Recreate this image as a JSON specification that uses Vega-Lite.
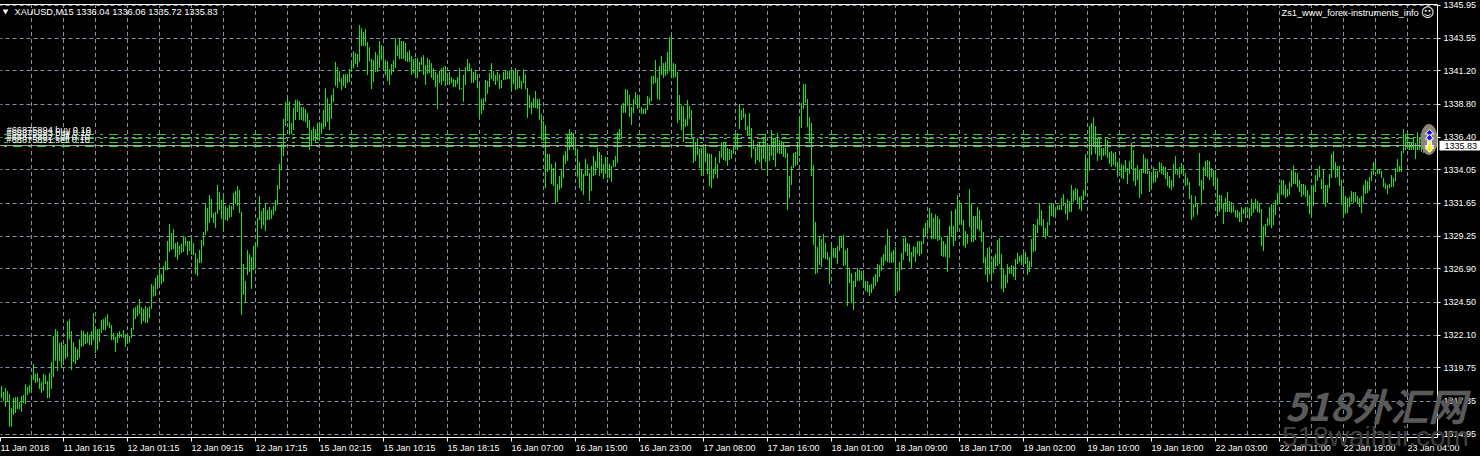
{"$schema":"https://vega.github.io/schema/vega-lite/v6.json","width":1437,"height":433,"autosize":{"type":"none"},"padding":{"left":0,"top":4,"right":43,"bottom":19},"background":"#000000","config":{"view":{"stroke":null},"font":"Liberation Sans"},
"datasets":{
"grid":[{"n":15},{"n":31},{"n":47},{"n":63},{"n":79},{"n":95},{"n":111},{"n":127},{"n":143},{"n":159},{"n":175},{"n":191},{"n":207},{"n":223},{"n":239},{"n":255},{"n":271},{"n":287},{"n":303},{"n":319},{"n":335},{"n":351},{"n":367},{"n":383},{"n":399},{"n":415},{"n":431},{"n":447},{"n":463},{"n":479},{"n":495},{"n":511},{"n":527},{"n":543},{"n":559},{"n":575},{"n":591},{"n":607},{"n":623},{"n":639},{"n":655},{"n":671},{"n":687},{"n":703}],
"orders":[{"price":1336.576},{"price":1336.287},{"price":1335.998},{"price":1335.709}],
"bars":[
{"n":0,"hi":1318.41,"lo":1317.54},{"n":1,"hi":1317.98,"lo":1317.33},{"n":2,"hi":1318.27,"lo":1316.92},{"n":3,"hi":1318.05,"lo":1317.28},{"n":4,"hi":1317.83,"lo":1315.47},{"n":5,"hi":1316.82,"lo":1315.47},{"n":6,"hi":1317.54,"lo":1316.32},{"n":7,"hi":1317.62,"lo":1316.46},{"n":8,"hi":1317.62,"lo":1316.75},{"n":9,"hi":1317.25,"lo":1316.75},
{"n":10,"hi":1317.69,"lo":1316.56},{"n":11,"hi":1317.76,"lo":1317.18},{"n":12,"hi":1318.55,"lo":1317.11},{"n":13,"hi":1318.34,"lo":1317.76},{"n":14,"hi":1318.48,"lo":1317.9},{"n":15,"hi":1319.2,"lo":1317.98},{"n":16,"hi":1320,"lo":1318.84},{"n":17,"hi":1319.28,"lo":1318.63},{"n":18,"hi":1319.35,"lo":1318.7},{"n":19,"hi":1318.99,"lo":1318.2},
{"n":20,"hi":1318.7,"lo":1317.9},{"n":21,"hi":1319.28,"lo":1318.05},{"n":22,"hi":1319.2,"lo":1318.55},{"n":23,"hi":1318.77,"lo":1317.54},{"n":24,"hi":1319.35,"lo":1317.54},{"n":25,"hi":1320.14,"lo":1318.2},{"n":26,"hi":1322.02,"lo":1319.06},{"n":27,"hi":1322.53,"lo":1320.22},{"n":28,"hi":1322.38,"lo":1319.49},{"n":29,"hi":1321.52,"lo":1320.22},
{"n":30,"hi":1321.59,"lo":1319.71},{"n":31,"hi":1321.37,"lo":1320},{"n":32,"hi":1321.44,"lo":1320.36},{"n":33,"hi":1323.1,"lo":1320.5},{"n":34,"hi":1323.25,"lo":1321.8},{"n":35,"hi":1322.38,"lo":1319.57},{"n":36,"hi":1321.59,"lo":1320.14},{"n":37,"hi":1321.23,"lo":1320},{"n":38,"hi":1321.08,"lo":1320.29},{"n":39,"hi":1321.8,"lo":1320.43},
{"n":40,"hi":1322.45,"lo":1321.23},{"n":41,"hi":1322.38,"lo":1321.3},{"n":42,"hi":1322.16,"lo":1321.44},{"n":43,"hi":1322.31,"lo":1321.52},{"n":44,"hi":1322.09,"lo":1321.37},{"n":45,"hi":1322.38,"lo":1321.37},{"n":46,"hi":1323.68,"lo":1321.73},{"n":47,"hi":1322.67,"lo":1320.79},{"n":48,"hi":1322.53,"lo":1321.01},{"n":49,"hi":1322.53,"lo":1321.59},
{"n":50,"hi":1323.18,"lo":1322.24},{"n":51,"hi":1323.25,"lo":1322.45},{"n":52,"hi":1323.39,"lo":1322.45},{"n":53,"hi":1323.61,"lo":1322.74},{"n":54,"hi":1323.03,"lo":1322.6},{"n":55,"hi":1322.81,"lo":1321.73},{"n":56,"hi":1322.24,"lo":1321.73},{"n":57,"hi":1321.95,"lo":1320.87},{"n":58,"hi":1322.24,"lo":1321.52},{"n":59,"hi":1322.38,"lo":1321.88},
{"n":60,"hi":1322.16,"lo":1321.95},{"n":61,"hi":1322.45,"lo":1321.88},{"n":62,"hi":1322.16,"lo":1321.23},{"n":63,"hi":1322.09,"lo":1321.44},{"n":64,"hi":1322.02,"lo":1321.52},{"n":65,"hi":1322.6,"lo":1321.88},{"n":66,"hi":1324.04,"lo":1322.45},{"n":67,"hi":1324.11,"lo":1323.25},{"n":68,"hi":1324.26,"lo":1323.46},{"n":69,"hi":1324.7,"lo":1323.61},
{"n":70,"hi":1324.12,"lo":1322.89},{"n":71,"hi":1323.98,"lo":1323.1},{"n":72,"hi":1324.19,"lo":1322.96},{"n":73,"hi":1324.05,"lo":1322.96},{"n":74,"hi":1324.15,"lo":1323.32},{"n":75,"hi":1325.78,"lo":1323.97},{"n":76,"hi":1325.64,"lo":1324.87},{"n":77,"hi":1326.22,"lo":1324.92},{"n":78,"hi":1326.43,"lo":1325.42},{"n":79,"hi":1326.94,"lo":1325.78},
{"n":80,"hi":1326.5,"lo":1325.78},{"n":81,"hi":1327.08,"lo":1325.93},{"n":82,"hi":1327.44,"lo":1326.79},{"n":83,"hi":1328.89,"lo":1326.79},{"n":84,"hi":1330.11,"lo":1328.09},{"n":85,"hi":1329.46,"lo":1328.24},{"n":86,"hi":1329.75,"lo":1328.31},{"n":87,"hi":1328.74,"lo":1327.73},{"n":88,"hi":1328.81,"lo":1327.52},{"n":89,"hi":1328.53,"lo":1327.88},
{"n":90,"hi":1328.67,"lo":1328.02},{"n":91,"hi":1329.18,"lo":1328.09},{"n":92,"hi":1329.18,"lo":1328.53},{"n":93,"hi":1328.89,"lo":1327.88},{"n":94,"hi":1328.89,"lo":1328.17},{"n":95,"hi":1329.25,"lo":1327.88},{"n":96,"hi":1328.74,"lo":1327.88},{"n":97,"hi":1328.02,"lo":1326.5},{"n":98,"hi":1327.59,"lo":1326.36},{"n":99,"hi":1328.24,"lo":1327.3},
{"n":100,"hi":1328.96,"lo":1327.3},{"n":101,"hi":1329.54,"lo":1328.53},{"n":102,"hi":1331.63,"lo":1329.32},{"n":103,"hi":1331.27,"lo":1329.61},{"n":104,"hi":1332.21,"lo":1330.19},{"n":105,"hi":1331.92,"lo":1330.55},{"n":106,"hi":1330.91,"lo":1330.19},{"n":107,"hi":1330.98,"lo":1329.83},{"n":108,"hi":1332.93,"lo":1330.84},{"n":109,"hi":1332.43,"lo":1331.13},
{"n":110,"hi":1331.85,"lo":1330.48},{"n":111,"hi":1332.14,"lo":1329.61},{"n":112,"hi":1331.42,"lo":1330.4},{"n":113,"hi":1331.27,"lo":1330.33},{"n":114,"hi":1331.49,"lo":1330.55},{"n":115,"hi":1331.42,"lo":1330.62},{"n":116,"hi":1332.35,"lo":1331.13},{"n":117,"hi":1332.5,"lo":1331.56},{"n":118,"hi":1332.86,"lo":1331.42},{"n":119,"hi":1332.57,"lo":1330.91},
{"n":120,"hi":1330.98,"lo":1323.54},{"n":121,"hi":1327.23,"lo":1324.99},{"n":122,"hi":1326,"lo":1324.46},{"n":123,"hi":1328.24,"lo":1326.43},{"n":124,"hi":1327.95,"lo":1326.65},{"n":125,"hi":1327.73,"lo":1325.42},{"n":126,"hi":1328.53,"lo":1326.79},{"n":127,"hi":1328.81,"lo":1326.87},{"n":128,"hi":1330.55,"lo":1328.45},{"n":129,"hi":1332.14,"lo":1330.4},
{"n":130,"hi":1331.05,"lo":1329.75},{"n":131,"hi":1331.27,"lo":1330.04},{"n":132,"hi":1331.63,"lo":1329.61},{"n":133,"hi":1331.13,"lo":1330.4},{"n":134,"hi":1331.34,"lo":1330.4},{"n":135,"hi":1331.13,"lo":1330.48},{"n":136,"hi":1331.42,"lo":1330.76},{"n":137,"hi":1331.85,"lo":1331.05},{"n":138,"hi":1332.93,"lo":1331.49},{"n":139,"hi":1334.45,"lo":1332.64},
{"n":140,"hi":1335.89,"lo":1334.01},{"n":141,"hi":1337.7,"lo":1335.02},{"n":142,"hi":1338.92,"lo":1337.19},{"n":143,"hi":1339.14,"lo":1337.55},{"n":144,"hi":1338.98,"lo":1336.54},{"n":145,"hi":1337.41,"lo":1336.61},{"n":146,"hi":1338.49,"lo":1336.9},{"n":147,"hi":1339.07,"lo":1337.62},{"n":148,"hi":1339.07,"lo":1338.2},{"n":149,"hi":1338.98,"lo":1337.62},
{"n":150,"hi":1338.56,"lo":1337.62},{"n":151,"hi":1338.56,"lo":1337.55},{"n":152,"hi":1338.42,"lo":1337.48},{"n":153,"hi":1338.13,"lo":1337.05},{"n":154,"hi":1337.62,"lo":1335.46},{"n":155,"hi":1336.9,"lo":1335.82},{"n":156,"hi":1337.12,"lo":1336.11},{"n":157,"hi":1336.97,"lo":1335.96},{"n":158,"hi":1337.41,"lo":1336.18},{"n":159,"hi":1337.48,"lo":1336.18},
{"n":160,"hi":1337.41,"lo":1336.61},{"n":161,"hi":1338.35,"lo":1336.97},{"n":162,"hi":1339.9,"lo":1337.12},{"n":163,"hi":1339.21,"lo":1337.48},{"n":164,"hi":1338.71,"lo":1336.9},{"n":165,"hi":1339.43,"lo":1337.7},{"n":166,"hi":1339.9,"lo":1338.92},{"n":167,"hi":1341.81,"lo":1340.07},{"n":168,"hi":1341.45,"lo":1339.93},{"n":169,"hi":1341.16,"lo":1340.36},
{"n":170,"hi":1340.65,"lo":1339.79},{"n":171,"hi":1340.94,"lo":1340.07},{"n":172,"hi":1340.94,"lo":1339.93},{"n":173,"hi":1340.94,"lo":1340.29},{"n":174,"hi":1341.3,"lo":1340.36},{"n":175,"hi":1341.73,"lo":1341.09},{"n":176,"hi":1342.6,"lo":1341.37},{"n":177,"hi":1342.46,"lo":1341.66},{"n":178,"hi":1342.39,"lo":1341.45},{"n":179,"hi":1344.48,"lo":1341.81},
{"n":180,"hi":1344.26,"lo":1342.96},{"n":181,"hi":1343.97,"lo":1342.96},{"n":182,"hi":1344.19,"lo":1342.96},{"n":183,"hi":1343.25,"lo":1340.87},{"n":184,"hi":1342.89,"lo":1341.88},{"n":185,"hi":1342.02,"lo":1339.86},{"n":186,"hi":1341.95,"lo":1340.36},{"n":187,"hi":1342.53,"lo":1341.09},{"n":188,"hi":1342.31,"lo":1341.09},{"n":189,"hi":1343.32,"lo":1341.37},
{"n":190,"hi":1343.03,"lo":1341.95},{"n":191,"hi":1342.67,"lo":1341.23},{"n":192,"hi":1341.95,"lo":1340.87},{"n":193,"hi":1341.88,"lo":1340.44},{"n":194,"hi":1341.3,"lo":1340.15},{"n":195,"hi":1341.66,"lo":1340.87},{"n":196,"hi":1341.95,"lo":1341.09},{"n":197,"hi":1343.54,"lo":1341.37},{"n":198,"hi":1343.03,"lo":1342.24},{"n":199,"hi":1343.47,"lo":1342.02},
{"n":200,"hi":1343.32,"lo":1342.02},{"n":201,"hi":1343.32,"lo":1342.02},{"n":202,"hi":1343.18,"lo":1341.88},{"n":203,"hi":1342.53,"lo":1341.81},{"n":204,"hi":1342.67,"lo":1341.81},{"n":205,"hi":1342.24,"lo":1340.87},{"n":206,"hi":1342.02,"lo":1341.01},{"n":207,"hi":1342.1,"lo":1340.87},{"n":208,"hi":1342.1,"lo":1340.65},{"n":209,"hi":1341.81,"lo":1341.09},
{"n":210,"hi":1342.17,"lo":1341.59},{"n":211,"hi":1342.31,"lo":1340.87},{"n":212,"hi":1341.59,"lo":1340.15},{"n":213,"hi":1342.1,"lo":1340.94},{"n":214,"hi":1341.95,"lo":1341.01},{"n":215,"hi":1341.73,"lo":1340.65},{"n":216,"hi":1341.37,"lo":1340.51},{"n":217,"hi":1341.09,"lo":1340},{"n":218,"hi":1340.94,"lo":1338.41},{"n":219,"hi":1341.16,"lo":1340.29},
{"n":220,"hi":1341.37,"lo":1340.15},{"n":221,"hi":1341.45,"lo":1340.44},{"n":222,"hi":1341.52,"lo":1340.07},{"n":223,"hi":1341.01,"lo":1340.36},{"n":224,"hi":1341.09,"lo":1340.15},{"n":225,"hi":1340.72,"lo":1340.29},{"n":226,"hi":1340.58,"lo":1340},{"n":227,"hi":1340.51,"lo":1340},{"n":228,"hi":1340.72,"lo":1340.22},{"n":229,"hi":1341.37,"lo":1339.79},
{"n":230,"hi":1339.93,"lo":1339.86},{"n":231,"hi":1340.87,"lo":1338.92},{"n":232,"hi":1341.45,"lo":1340.15},{"n":233,"hi":1342.02,"lo":1341.16},{"n":234,"hi":1341.73,"lo":1341.16},{"n":235,"hi":1341.37,"lo":1340.29},{"n":236,"hi":1341.09,"lo":1340.29},{"n":237,"hi":1341.23,"lo":1340.51},{"n":238,"hi":1340.94,"lo":1339.93},{"n":239,"hi":1340.15,"lo":1337.76},
{"n":240,"hi":1339.14,"lo":1338.05},{"n":241,"hi":1339.21,"lo":1338.34},{"n":242,"hi":1340.51,"lo":1338.92},{"n":243,"hi":1340.44,"lo":1339.5},{"n":244,"hi":1341.01,"lo":1340},{"n":245,"hi":1341.73,"lo":1340.58},{"n":246,"hi":1341.16,"lo":1340.44},{"n":247,"hi":1340.87,"lo":1340.15},{"n":248,"hi":1341.09,"lo":1340.44},{"n":249,"hi":1340.94,"lo":1339.86},
{"n":250,"hi":1340.51,"lo":1339.93},{"n":251,"hi":1341.09,"lo":1340.51},{"n":252,"hi":1341.16,"lo":1340.51},{"n":253,"hi":1341.16,"lo":1340.58},{"n":254,"hi":1341.16,"lo":1340.58},{"n":255,"hi":1341.16,"lo":1339.79},{"n":256,"hi":1341.16,"lo":1340.22},{"n":257,"hi":1341.37,"lo":1339.79},{"n":258,"hi":1341.16,"lo":1339.86},{"n":259,"hi":1340.8,"lo":1339.93},
{"n":260,"hi":1340.44,"lo":1339.86},{"n":261,"hi":1341.3,"lo":1340.29},{"n":262,"hi":1340.94,"lo":1339.86},{"n":263,"hi":1339.93,"lo":1337.76},{"n":264,"hi":1339.42,"lo":1338.49},{"n":265,"hi":1338.92,"lo":1338.05},{"n":266,"hi":1339.21,"lo":1338.49},{"n":267,"hi":1339.71,"lo":1338.49},{"n":268,"hi":1339.14,"lo":1338.41},{"n":269,"hi":1339.14,"lo":1337.62},
{"n":270,"hi":1338.05,"lo":1336.18},{"n":271,"hi":1337.55,"lo":1336.11},{"n":272,"hi":1337.26,"lo":1332.71},{"n":273,"hi":1335.17,"lo":1333.87},{"n":274,"hi":1335.17,"lo":1334.01},{"n":275,"hi":1334.45,"lo":1333},{"n":276,"hi":1334.16,"lo":1332.86},{"n":277,"hi":1334.59,"lo":1331.56},{"n":278,"hi":1333,"lo":1331.7},{"n":279,"hi":1333.58,"lo":1332.57},
{"n":280,"hi":1334.08,"lo":1332.71},{"n":281,"hi":1335.09,"lo":1333.43},{"n":282,"hi":1335.38,"lo":1334.45},{"n":283,"hi":1336.61,"lo":1334.66},{"n":284,"hi":1336.97,"lo":1335.46},{"n":285,"hi":1336.76,"lo":1335.74},{"n":286,"hi":1336.68,"lo":1335.46},{"n":287,"hi":1336.11,"lo":1335.02},{"n":288,"hi":1335.53,"lo":1333.51},{"n":289,"hi":1334.59,"lo":1332.71},
{"n":290,"hi":1334.01,"lo":1332.5},{"n":291,"hi":1333.72,"lo":1332.21},{"n":292,"hi":1334.81,"lo":1333.58},{"n":293,"hi":1334.45,"lo":1333.58},{"n":294,"hi":1333.79,"lo":1331.77},{"n":295,"hi":1334.3,"lo":1332.5},{"n":296,"hi":1335.02,"lo":1333.58},{"n":297,"hi":1334.66,"lo":1333.65},{"n":298,"hi":1335.6,"lo":1334.16},{"n":299,"hi":1335.31,"lo":1333.58},
{"n":300,"hi":1335.09,"lo":1333.79},{"n":301,"hi":1334.45,"lo":1333.36},{"n":302,"hi":1334.95,"lo":1333.72},{"n":303,"hi":1334.95,"lo":1333.43},{"n":304,"hi":1334.45,"lo":1333.43},{"n":305,"hi":1334.3,"lo":1333.14},{"n":306,"hi":1334.73,"lo":1334.23},{"n":307,"hi":1335.02,"lo":1334.23},{"n":308,"hi":1336.76,"lo":1334.52},{"n":309,"hi":1336.97,"lo":1336.18},
{"n":310,"hi":1338.7,"lo":1336.25},{"n":311,"hi":1338.85,"lo":1338.13},{"n":312,"hi":1339.86,"lo":1338.13},{"n":313,"hi":1339.79,"lo":1338.63},{"n":314,"hi":1339.43,"lo":1337.84},{"n":315,"hi":1338.56,"lo":1337.26},{"n":316,"hi":1339.14,"lo":1338.13},{"n":317,"hi":1339.64,"lo":1338.78},{"n":318,"hi":1339.43,"lo":1338.42},{"n":319,"hi":1339.35,"lo":1338.49},
{"n":320,"hi":1338.56,"lo":1338.05},{"n":321,"hi":1338.42,"lo":1338.05},{"n":322,"hi":1338.49,"lo":1338.05},{"n":323,"hi":1339.35,"lo":1338.34},{"n":324,"hi":1339.21,"lo":1338.7},{"n":325,"hi":1340.8,"lo":1339},{"n":326,"hi":1340.8,"lo":1340.22},{"n":327,"hi":1341.95,"lo":1340.29},{"n":328,"hi":1340.65,"lo":1339.14},{"n":329,"hi":1341.52,"lo":1339.07},
{"n":330,"hi":1342.24,"lo":1340.87},{"n":331,"hi":1341.74,"lo":1340.65},{"n":332,"hi":1341.81,"lo":1340.8},{"n":333,"hi":1342.53,"lo":1340.94},{"n":334,"hi":1343.61,"lo":1341.16},{"n":335,"hi":1343.69,"lo":1340.65},{"n":336,"hi":1341.74,"lo":1340.65},{"n":337,"hi":1341.66,"lo":1340.73},{"n":338,"hi":1341.09,"lo":1337.4},{"n":339,"hi":1339.43,"lo":1337.62},
{"n":340,"hi":1338.7,"lo":1336.9},{"n":341,"hi":1338.63,"lo":1336.03},{"n":342,"hi":1337.69,"lo":1337.12},{"n":343,"hi":1339.07,"lo":1337.19},{"n":344,"hi":1338.63,"lo":1337.69},{"n":345,"hi":1338.34,"lo":1336.37},{"n":346,"hi":1336.32,"lo":1334.52},{"n":347,"hi":1336.03,"lo":1334.66},{"n":348,"hi":1336.32,"lo":1335.09},{"n":349,"hi":1335.53,"lo":1334.16},
{"n":350,"hi":1335.6,"lo":1333.58},{"n":351,"hi":1335.82,"lo":1333.65},{"n":352,"hi":1335.89,"lo":1334.59},{"n":353,"hi":1335.24,"lo":1333.72},{"n":354,"hi":1335.17,"lo":1332.86},{"n":355,"hi":1335.17,"lo":1332.71},{"n":356,"hi":1334.08,"lo":1333.36},{"n":357,"hi":1334.95,"lo":1333.72},{"n":358,"hi":1334.45,"lo":1333.43},{"n":359,"hi":1335.38,"lo":1334.52},
{"n":360,"hi":1336.03,"lo":1334.88},{"n":361,"hi":1336.03,"lo":1334.73},{"n":362,"hi":1335.96,"lo":1334.66},{"n":363,"hi":1335.6,"lo":1334.3},{"n":364,"hi":1335.53,"lo":1334.73},{"n":365,"hi":1335.46,"lo":1334.81},{"n":366,"hi":1335.74,"lo":1335.17},{"n":367,"hi":1336.61,"lo":1335.46},{"n":368,"hi":1336.68,"lo":1335.46},{"n":369,"hi":1338.78,"lo":1336.97},
{"n":370,"hi":1338.34,"lo":1337.62},{"n":371,"hi":1338.49,"lo":1337.77},{"n":372,"hi":1338.06,"lo":1336.9},{"n":373,"hi":1337.19,"lo":1336.47},{"n":374,"hi":1338.13,"lo":1336.47},{"n":375,"hi":1337.04,"lo":1334.88},{"n":376,"hi":1336.18,"lo":1335.53},{"n":377,"hi":1335.67,"lo":1334.44},{"n":378,"hi":1335.89,"lo":1334.73},{"n":379,"hi":1335.96,"lo":1334.59},
{"n":380,"hi":1335.82,"lo":1334.08},{"n":381,"hi":1336.25,"lo":1334.81},{"n":382,"hi":1336.54,"lo":1334.59},{"n":383,"hi":1335.96,"lo":1333.65},{"n":384,"hi":1335.82,"lo":1334.66},{"n":385,"hi":1336.9,"lo":1335.02},{"n":386,"hi":1336.25,"lo":1334.73},{"n":387,"hi":1336.32,"lo":1334.23},{"n":388,"hi":1336.68,"lo":1335.24},{"n":389,"hi":1336.18,"lo":1335.17},
{"n":390,"hi":1336.11,"lo":1335.17},{"n":391,"hi":1335.96,"lo":1334.95},{"n":392,"hi":1335.6,"lo":1334.88},{"n":393,"hi":1335.24,"lo":1331.12},{"n":394,"hi":1333.58,"lo":1331.99},{"n":395,"hi":1334.3,"lo":1332.93},{"n":396,"hi":1335.24,"lo":1334.16},{"n":397,"hi":1335.31,"lo":1334.3},{"n":398,"hi":1335.96,"lo":1334.37},{"n":399,"hi":1337.84,"lo":1335.02},
{"n":400,"hi":1338.85,"lo":1337.04},{"n":401,"hi":1340.22,"lo":1338.42},{"n":402,"hi":1340.22,"lo":1338.85},{"n":403,"hi":1339.14,"lo":1337.12},{"n":404,"hi":1337.84,"lo":1335.96},{"n":405,"hi":1337.41,"lo":1333.58},{"n":406,"hi":1334.37,"lo":1328.6},{"n":407,"hi":1330.26,"lo":1326.5},{"n":408,"hi":1328.45,"lo":1326.57},{"n":409,"hi":1329.25,"lo":1327.15},
{"n":410,"hi":1329.03,"lo":1327.01},{"n":411,"hi":1329.39,"lo":1327.66},{"n":412,"hi":1328.74,"lo":1327.59},{"n":413,"hi":1328.09,"lo":1327.51},{"n":414,"hi":1327.73,"lo":1325.78},{"n":415,"hi":1328.74,"lo":1326.86},{"n":416,"hi":1328.38,"lo":1327.66},{"n":417,"hi":1328.38,"lo":1327.66},{"n":418,"hi":1328.52,"lo":1327.22},{"n":419,"hi":1329.25,"lo":1328.16},
{"n":420,"hi":1329.25,"lo":1328.38},{"n":421,"hi":1329.32,"lo":1327.08},{"n":422,"hi":1328.23,"lo":1327.15},{"n":423,"hi":1328.38,"lo":1324.19},{"n":424,"hi":1326.94,"lo":1325.85},{"n":425,"hi":1326.57,"lo":1324.41},{"n":426,"hi":1326,"lo":1323.9},{"n":427,"hi":1326.65,"lo":1325.56},{"n":428,"hi":1326.94,"lo":1326},{"n":429,"hi":1326.79,"lo":1326},
{"n":430,"hi":1326.72,"lo":1326.07},{"n":431,"hi":1326.57,"lo":1325.49},{"n":432,"hi":1326,"lo":1325.28},{"n":433,"hi":1326,"lo":1325.2},{"n":434,"hi":1325.71,"lo":1324.91},{"n":435,"hi":1325.78,"lo":1325.13},{"n":436,"hi":1326.29,"lo":1325.42},{"n":437,"hi":1326.5,"lo":1325.64},{"n":438,"hi":1327.22,"lo":1325.93},{"n":439,"hi":1327.15,"lo":1326.29},
{"n":440,"hi":1327.73,"lo":1326.72},{"n":441,"hi":1327.95,"lo":1327.08},{"n":442,"hi":1328.6,"lo":1327.44},{"n":443,"hi":1329.75,"lo":1327.37},{"n":444,"hi":1329.17,"lo":1327.3},{"n":445,"hi":1328.09,"lo":1327.3},{"n":446,"hi":1328.23,"lo":1327.37},{"n":447,"hi":1328.45,"lo":1324.91},{"n":448,"hi":1326.72,"lo":1325.2},{"n":449,"hi":1327.37,"lo":1325.28},
{"n":450,"hi":1328.02,"lo":1326.79},{"n":451,"hi":1329.1,"lo":1327.51},{"n":452,"hi":1329.17,"lo":1328.09},{"n":453,"hi":1328.74,"lo":1327.8},{"n":454,"hi":1328.67,"lo":1327.37},{"n":455,"hi":1328.09,"lo":1326.94},{"n":456,"hi":1328.52,"lo":1327.73},{"n":457,"hi":1328.45,"lo":1327.37},{"n":458,"hi":1328.88,"lo":1327.95},{"n":459,"hi":1328.88,"lo":1327.8},
{"n":460,"hi":1328.88,"lo":1327.95},{"n":461,"hi":1329.82,"lo":1328.67},{"n":462,"hi":1330.18,"lo":1329.25},{"n":463,"hi":1330.4,"lo":1329.39},{"n":464,"hi":1331.27,"lo":1329.82},{"n":465,"hi":1330.91,"lo":1329.03},{"n":466,"hi":1330.55,"lo":1329.03},{"n":467,"hi":1330.83,"lo":1329.03},{"n":468,"hi":1330.69,"lo":1328.88},{"n":469,"hi":1330.47,"lo":1328.96},
{"n":470,"hi":1329.17,"lo":1327.8},{"n":471,"hi":1328.88,"lo":1327.73},{"n":472,"hi":1328.67,"lo":1327.73},{"n":473,"hi":1329.25,"lo":1326.65},{"n":474,"hi":1329.97,"lo":1327.66},{"n":475,"hi":1331.05,"lo":1329.17},{"n":476,"hi":1329.97,"lo":1328.52},{"n":477,"hi":1331.2,"lo":1328.88},{"n":478,"hi":1332.21,"lo":1329.54},{"n":479,"hi":1331.63,"lo":1330.04},
{"n":480,"hi":1331.63,"lo":1330.04},{"n":481,"hi":1330.4,"lo":1328.52},{"n":482,"hi":1329.61,"lo":1328.38},{"n":483,"hi":1329.39,"lo":1328.67},{"n":484,"hi":1332.64,"lo":1329.9},{"n":485,"hi":1331.63,"lo":1328.81},{"n":486,"hi":1330.69,"lo":1328.81},{"n":487,"hi":1330.69,"lo":1328.95},{"n":488,"hi":1331.34,"lo":1329.75},{"n":489,"hi":1331.12,"lo":1329.6},
{"n":490,"hi":1330.4,"lo":1328.81},{"n":491,"hi":1329.53,"lo":1327.29},{"n":492,"hi":1327.73,"lo":1326.43},{"n":493,"hi":1328.38,"lo":1325.92},{"n":494,"hi":1328.45,"lo":1326.5},{"n":495,"hi":1327.44,"lo":1326.07},{"n":496,"hi":1327.73,"lo":1326.57},{"n":497,"hi":1327.94,"lo":1327},{"n":498,"hi":1328.95,"lo":1327.08},{"n":499,"hi":1329.1,"lo":1327.22},
{"n":500,"hi":1327.94,"lo":1325.42},{"n":501,"hi":1326.86,"lo":1325.2},{"n":502,"hi":1326.43,"lo":1325.49},{"n":503,"hi":1327.22,"lo":1325.85},{"n":504,"hi":1327,"lo":1326.5},{"n":505,"hi":1327.15,"lo":1326.5},{"n":506,"hi":1327.08,"lo":1326.28},{"n":507,"hi":1327.58,"lo":1326.07},{"n":508,"hi":1328.02,"lo":1327.22},{"n":509,"hi":1327.8,"lo":1327.37},
{"n":510,"hi":1327.87,"lo":1327.15},{"n":511,"hi":1328.02,"lo":1327.22},{"n":512,"hi":1328.09,"lo":1327.22},{"n":513,"hi":1327.73,"lo":1326.43},{"n":514,"hi":1327.44,"lo":1326.64},{"n":515,"hi":1329.03,"lo":1327},{"n":516,"hi":1330.11,"lo":1328.09},{"n":517,"hi":1330.04,"lo":1328.16},{"n":518,"hi":1330.47,"lo":1329.46},{"n":519,"hi":1331.62,"lo":1330.04},
{"n":520,"hi":1331.12,"lo":1329.96},{"n":521,"hi":1330.47,"lo":1329.24},{"n":522,"hi":1329.82,"lo":1329.03},{"n":523,"hi":1330.25,"lo":1329.24},{"n":524,"hi":1331.48,"lo":1330.04},{"n":525,"hi":1331.62,"lo":1330.69},{"n":526,"hi":1331.62,"lo":1330.61},{"n":527,"hi":1331.34,"lo":1330.69},{"n":528,"hi":1331.48,"lo":1331.12},{"n":529,"hi":1331.48,"lo":1331.12},
{"n":530,"hi":1331.99,"lo":1331.12},{"n":531,"hi":1332.27,"lo":1331.41},{"n":532,"hi":1331.55,"lo":1330.83},{"n":533,"hi":1331.91,"lo":1330.4},{"n":534,"hi":1331.77,"lo":1330.97},{"n":535,"hi":1332.92,"lo":1330.97},{"n":536,"hi":1332.56,"lo":1331.7},{"n":537,"hi":1332.71,"lo":1331.84},{"n":538,"hi":1332.64,"lo":1331.62},{"n":539,"hi":1332.06,"lo":1331.19},
{"n":540,"hi":1332.13,"lo":1331.05},{"n":541,"hi":1332.56,"lo":1331.84},{"n":542,"hi":1335.16,"lo":1332.13},{"n":543,"hi":1334.8,"lo":1333.31},{"n":544,"hi":1337.18,"lo":1333.94},{"n":545,"hi":1337.4,"lo":1335.09},{"n":546,"hi":1337.83,"lo":1335.81},{"n":547,"hi":1337.18,"lo":1335.16},{"n":548,"hi":1336.32,"lo":1334.66},{"n":549,"hi":1336.39,"lo":1335.02},
{"n":550,"hi":1335.6,"lo":1334.73},{"n":551,"hi":1335.6,"lo":1335.02},{"n":552,"hi":1336.32,"lo":1335.09},{"n":553,"hi":1336.17,"lo":1334.87},{"n":554,"hi":1335.31,"lo":1334.44},{"n":555,"hi":1335.38,"lo":1334.22},{"n":556,"hi":1335.24,"lo":1334.37},{"n":557,"hi":1335.31,"lo":1334.22},{"n":558,"hi":1334.59,"lo":1333.5},{"n":559,"hi":1334.8,"lo":1333.94},
{"n":560,"hi":1334.44,"lo":1333.43},{"n":561,"hi":1334.37,"lo":1333.36},{"n":562,"hi":1334.73,"lo":1333.86},{"n":563,"hi":1334.15,"lo":1333},{"n":564,"hi":1334.66,"lo":1333.72},{"n":565,"hi":1335.96,"lo":1334.08},{"n":566,"hi":1335.45,"lo":1333.21},{"n":567,"hi":1334.15,"lo":1332.85},{"n":568,"hi":1334.37,"lo":1333.29},{"n":569,"hi":1334.01,"lo":1331.99},
{"n":570,"hi":1334.01,"lo":1332.27},{"n":571,"hi":1335.16,"lo":1333.79},{"n":572,"hi":1334.87,"lo":1333.72},{"n":573,"hi":1334.8,"lo":1333.72},{"n":574,"hi":1333.94,"lo":1332.42},{"n":575,"hi":1333.57,"lo":1332.85},{"n":576,"hi":1334.22,"lo":1333.07},{"n":577,"hi":1333.94,"lo":1333.14},{"n":578,"hi":1333.94,"lo":1333.43},{"n":579,"hi":1334.59,"lo":1333.86},
{"n":580,"hi":1334.51,"lo":1333.72},{"n":581,"hi":1334.3,"lo":1333.65},{"n":582,"hi":1334.22,"lo":1333.36},{"n":583,"hi":1333.86,"lo":1332.85},{"n":584,"hi":1333.57,"lo":1332.71},{"n":585,"hi":1333.29,"lo":1332.56},{"n":586,"hi":1334.44,"lo":1332.78},{"n":587,"hi":1335.02,"lo":1333.72},{"n":588,"hi":1334.08,"lo":1333.65},{"n":589,"hi":1334.22,"lo":1333.43},
{"n":590,"hi":1334.51,"lo":1333.72},{"n":591,"hi":1334.37,"lo":1333.65},{"n":592,"hi":1333.79,"lo":1332.85},{"n":593,"hi":1333.43,"lo":1332.92},{"n":594,"hi":1333.14,"lo":1331.91},{"n":595,"hi":1332.2,"lo":1330.4},{"n":596,"hi":1331.55,"lo":1330.61},{"n":597,"hi":1332.13,"lo":1331.34},{"n":598,"hi":1331.62,"lo":1330.76},{"n":599,"hi":1335.24,"lo":1332.85},
{"n":600,"hi":1333.29,"lo":1331.48},{"n":601,"hi":1334.22,"lo":1332.56},{"n":602,"hi":1334.66,"lo":1333.58},{"n":603,"hi":1334.73,"lo":1333.5},{"n":604,"hi":1334.66,"lo":1333.29},{"n":605,"hi":1334.15,"lo":1333.5},{"n":606,"hi":1334.01,"lo":1332.85},{"n":607,"hi":1334.01,"lo":1332.78},{"n":608,"hi":1333.43,"lo":1330.69},{"n":609,"hi":1332.2,"lo":1330.98},
{"n":610,"hi":1332.2,"lo":1331.19},{"n":611,"hi":1331.63,"lo":1330.11},{"n":612,"hi":1331.99,"lo":1330.98},{"n":613,"hi":1332.42,"lo":1330.98},{"n":614,"hi":1331.77,"lo":1330.98},{"n":615,"hi":1331.7,"lo":1330.9},{"n":616,"hi":1331.48,"lo":1330.98},{"n":617,"hi":1331.12,"lo":1330.62},{"n":618,"hi":1331.12,"lo":1330.54},{"n":619,"hi":1330.98,"lo":1330.26},
{"n":620,"hi":1331.34,"lo":1330.26},{"n":621,"hi":1331.19,"lo":1330.83},{"n":622,"hi":1331.34,"lo":1330.54},{"n":623,"hi":1331.34,"lo":1330.9},{"n":624,"hi":1331.27,"lo":1330.47},{"n":625,"hi":1331.92,"lo":1330.69},{"n":626,"hi":1331.63,"lo":1330.9},{"n":627,"hi":1331.92,"lo":1331.19},{"n":628,"hi":1331.77,"lo":1330.98},{"n":629,"hi":1331.63,"lo":1330.9},
{"n":630,"hi":1331.19,"lo":1328.52},{"n":631,"hi":1329.97,"lo":1328.16},{"n":632,"hi":1330.11,"lo":1329.24},{"n":633,"hi":1330.54,"lo":1329.97},{"n":634,"hi":1331.34,"lo":1330.04},{"n":635,"hi":1331.55,"lo":1329.82},{"n":636,"hi":1331.48,"lo":1330.04},{"n":637,"hi":1331.84,"lo":1330.76},{"n":638,"hi":1332.35,"lo":1331.48},{"n":639,"hi":1332.93,"lo":1331.55},
{"n":640,"hi":1333.29,"lo":1332.2},{"n":641,"hi":1333.29,"lo":1332.2},{"n":642,"hi":1332.93,"lo":1331.99},{"n":643,"hi":1332.64,"lo":1332.06},{"n":644,"hi":1333.14,"lo":1332.2},{"n":645,"hi":1334.01,"lo":1332.78},{"n":646,"hi":1334.37,"lo":1333},{"n":647,"hi":1333.87,"lo":1333},{"n":648,"hi":1333.79,"lo":1332.78},{"n":649,"hi":1333.29,"lo":1332.42},
{"n":650,"hi":1333,"lo":1332.06},{"n":651,"hi":1333,"lo":1332.2},{"n":652,"hi":1332.93,"lo":1332.06},{"n":653,"hi":1332.57,"lo":1331.41},{"n":654,"hi":1332.2,"lo":1330.83},{"n":655,"hi":1332.93,"lo":1330.54},{"n":656,"hi":1332.93,"lo":1331.41},{"n":657,"hi":1333.65,"lo":1332.42},{"n":658,"hi":1334.08,"lo":1333.22},{"n":659,"hi":1334.3,"lo":1333.5},
{"n":660,"hi":1333.36,"lo":1332.64},{"n":661,"hi":1334.01,"lo":1331.63},{"n":662,"hi":1332.93,"lo":1331.34},{"n":663,"hi":1332.93,"lo":1331.63},{"n":664,"hi":1333.72,"lo":1332.71},{"n":665,"hi":1335.17,"lo":1333.43},{"n":666,"hi":1335.38,"lo":1334.01},{"n":667,"hi":1334.59,"lo":1333.43},{"n":668,"hi":1334.3,"lo":1333.5},{"n":669,"hi":1334.3,"lo":1332.85},
{"n":670,"hi":1333.29,"lo":1331.48},{"n":671,"hi":1332.64,"lo":1330.54},{"n":672,"hi":1332.13,"lo":1330.83},{"n":673,"hi":1331.99,"lo":1330.9},{"n":674,"hi":1332.06,"lo":1331.34},{"n":675,"hi":1332.49,"lo":1331.7},{"n":676,"hi":1332.42,"lo":1331.63},{"n":677,"hi":1332.42,"lo":1331.7},{"n":678,"hi":1332.13,"lo":1331.63},{"n":679,"hi":1331.99,"lo":1331.34},
{"n":680,"hi":1332.13,"lo":1330.9},{"n":681,"hi":1332.93,"lo":1331.63},{"n":682,"hi":1333.29,"lo":1332.28},{"n":683,"hi":1333.22,"lo":1332.35},{"n":684,"hi":1333.5,"lo":1332.49},{"n":685,"hi":1333.94,"lo":1333.22},{"n":686,"hi":1334.59,"lo":1333.65},{"n":687,"hi":1334.59,"lo":1334.01},{"n":688,"hi":1334.08,"lo":1333.72},{"n":689,"hi":1334.01,"lo":1333.72},
{"n":690,"hi":1333.94,"lo":1333.43},{"n":691,"hi":1333.43,"lo":1332.78},{"n":692,"hi":1333.07,"lo":1332.64},{"n":693,"hi":1332.93,"lo":1332.28},{"n":694,"hi":1333,"lo":1332.71},{"n":695,"hi":1333.65,"lo":1332.78},{"n":696,"hi":1333.43,"lo":1332.78},{"n":697,"hi":1334.15,"lo":1333.22},{"n":698,"hi":1334.8,"lo":1333.87},{"n":699,"hi":1334.3,"lo":1333.87},
{"n":700,"hi":1335.38,"lo":1333.87},{"n":701,"hi":1336.97,"lo":1335.24},{"n":702,"hi":1336.61,"lo":1335.45},{"n":703,"hi":1336.54,"lo":1335.53},{"n":704,"hi":1336.03,"lo":1335.45},{"n":705,"hi":1336.03,"lo":1335.45},{"n":706,"hi":1336.25,"lo":1335.45},{"n":707,"hi":1335.96,"lo":1334.8},{"n":708,"hi":1336.75,"lo":1335.45},{"n":709,"hi":1336.39,"lo":1335.45},
{"n":710,"hi":1336.61,"lo":1335.31},{"n":711,"hi":1336.18,"lo":1335.24},{"n":712,"hi":1336.03,"lo":1335.24},{"n":713,"hi":1336.1,"lo":1335.5},{"n":714,"hi":1336.2,"lo":1335.7},{"n":715,"hi":1336.06,"lo":1335.72}
]},
"layer":[
{"data":{"name":"grid"},"mark":{"type":"rule","color":"#8492a3","strokeWidth":1,"strokeDash":[4,3]},"encoding":{"x":{"field":"n","type":"quantitative","scale":{"domain":[-0.75,717.75],"nice":false,"zero":false},"axis":{"title":null,"values":[-0.75,30.75,62.75,94.75,126.75,158.75,190.75,222.75,254.75,286.75,318.75,350.75,382.75,414.75,446.75,478.75,510.75,542.75,574.75,606.75,638.75,670.75,702.75],"tickCount":40,"grid":false,"orient":"bottom","domainColor":"#ffffff","tickColor":"#ffffff","tickSize":4,"labelColor":"#ffffff","labelFont":"Liberation Sans","labelFontSize":9,"labelAlign":"left","labelBaseline":"top","labelPadding":2,"labelOverlap":false,"labelBound":false,"labelFlush":false,"labelExpr":"{'-0.75':'11 Jan 2018','30.75':'11 Jan 16:15','62.75':'12 Jan 01:15','94.75':'12 Jan 09:15','126.75':'12 Jan 17:15','158.75':'15 Jan 02:15','190.75':'15 Jan 10:15','222.75':'15 Jan 18:15','254.75':'16 Jan 07:00','286.75':'16 Jan 15:00','318.75':'16 Jan 23:00','350.75':'17 Jan 08:00','382.75':'17 Jan 16:00','414.75':'18 Jan 01:00','446.75':'18 Jan 09:00','478.75':'18 Jan 17:00','510.75':'19 Jan 02:00','542.75':'19 Jan 10:00','574.75':'19 Jan 18:00','606.75':'22 Jan 03:00','638.75':'22 Jan 11:00','670.75':'22 Jan 19:00','702.75':'23 Jan 04:00'}[''+datum.value]"}}}},
{"data":{"name":"bars"},"mark":{"type":"rule","color":"#14e814","strokeWidth":1},"encoding":{"x":{"field":"n","type":"quantitative"},"y":{"field":"hi","type":"quantitative","scale":{"domain":[1314.73,1346],"nice":false,"zero":false},"axis":{"title":null,"orient":"right","values":[1314.95,1317.35,1319.75,1322.1,1324.5,1326.9,1329.25,1331.65,1334.05,1336.4,1338.8,1341.2,1343.55,1345.95],"tickCount":30,"format":".2f","grid":true,"gridColor":"#8492a3","gridDash":[4,3],"gridWidth":1,"domainColor":"#ffffff","tickColor":"#ffffff","tickSize":3,"labelColor":"#ffffff","labelFont":"Liberation Sans","labelFontSize":9,"labelPadding":3,"labelOverlap":false,"labelBound":false,"labelFlush":false}},"y2":{"field":"lo"}}},
{"data":{"values":[{"price":1345.964}]},"mark":{"type":"rule","color":"#ffffff","strokeWidth":1},"encoding":{"y":{"field":"price","type":"quantitative"}}},
{"data":{"name":"orders"},"mark":{"type":"rule","color":"#32cd32","strokeWidth":1,"strokeDash":[9,6,3,6],"strokeDashOffset":1},"encoding":{"y":{"field":"price","type":"quantitative"}}},
{"data":{"values":[{"price":1335.781}]},"mark":{"type":"rule","color":"#a8a8a8","strokeWidth":1},"encoding":{"y":{"field":"price","type":"quantitative"}}},
{"data":{"values":[{"n":713.75,"price":1336.21}]},"mark":{"type":"point","shape":"M0,-1 A0.55,1 0 1,1 0,1 A0.55,1 0 1,1 0,-1 Z","filled":true,"fill":"#8c8478","opacity":1,"size":961},"encoding":{"x":{"field":"n","type":"quantitative"},"y":{"field":"price","type":"quantitative"}}},
{"data":{"values":[{"n":714,"price":1336.61},{"n":714,"price":1336.25}]},"mark":{"type":"point","shape":"M0,-1 L0.9,0 L0.35,0 L0.35,1 L-0.35,1 L-0.35,0 L-0.9,0 Z","filled":true,"fill":"#1010e8","stroke":"#ffffff","strokeWidth":1,"opacity":1,"size":90},"encoding":{"x":{"field":"n","type":"quantitative"},"y":{"field":"price","type":"quantitative"}}},
{"data":{"values":[{"n":714,"price":1335.78},{"n":714,"price":1335.62}]},"mark":{"type":"point","shape":"M0,1 L0.9,0 L0.35,0 L0.35,-1 L-0.35,-1 L-0.35,0 L-0.9,0 Z","filled":true,"fill":"#f0f000","stroke":"#ffffff","strokeWidth":1,"opacity":1,"size":90},"encoding":{"x":{"field":"n","type":"quantitative"},"y":{"field":"price","type":"quantitative"}}},
{"data":{"values":[{"from":719,"to":739.5,"top":1336.12,"bottom":1335.42}]},"mark":{"type":"rect","color":"#ffffff"},"encoding":{"x":{"field":"from","type":"quantitative"},"x2":{"field":"to"},"y":{"field":"top","type":"quantitative"},"y2":{"field":"bottom"}}},
{"data":{"values":[{"n":721.5,"price":1335.78,"label":"1335.83"}]},"mark":{"type":"text","align":"left","baseline":"middle","font":"Liberation Sans","fontSize":9,"color":"#000000"},"encoding":{"x":{"field":"n","type":"quantitative"},"y":{"field":"price","type":"quantitative"},"text":{"field":"label"}}},
{"data":{"values":[{"n":2.5,"price":1336.9,"label":"#66875894 buy 0.10"},{"n":2.5,"price":1336.68,"label":"#66875893 buy 0.10"},{"n":2.5,"price":1336.39,"label":"#66875892 sell 0.10"},{"n":2.5,"price":1336.17,"label":"#66875891 sell 0.10"},{"n":6.5,"price":1345.42,"label":"XAUUSD,M15  1336.04 1336.06 1335.72 1335.83"},{"n":640,"price":1345.35,"label":"Zs1_www_forex-instruments_info"}]},"mark":{"type":"text","align":"left","baseline":"middle","font":"Liberation Sans","fontSize":9.25,"color":"#ffffff"},"encoding":{"x":{"field":"n","type":"quantitative"},"y":{"field":"price","type":"quantitative"},"text":{"field":"label"}}},
{"data":{"values":[{"n":2,"price":1345.42}]},"mark":{"type":"point","shape":"triangle-down","filled":true,"fill":"#ffffff","opacity":1,"size":32},"encoding":{"x":{"field":"n","type":"quantitative"},"y":{"field":"price","type":"quantitative"}}},
{"data":{"values":[{"n":713,"price":1345.35,"label":"☺"}]},"mark":{"type":"text","align":"center","baseline":"middle","font":"DejaVu Sans","fontSize":13,"color":"#ffffff"},"encoding":{"x":{"field":"n","type":"quantitative"},"y":{"field":"price","type":"quantitative"},"text":{"field":"label"}}},
{"data":{"values":[{"n":687,"price":1316.68,"label":"518外汇网"}]},"mark":{"type":"text","align":"center","baseline":"middle","font":"Noto Sans CJK SC","fontSize":38,"fontStyle":"italic","fontWeight":"bold","color":"#5a5a5a"},"encoding":{"x":{"field":"n","type":"quantitative"},"y":{"field":"price","type":"quantitative"},"text":{"field":"label"}}},
{"data":{"values":[{"n":687,"price":1314.66,"label":"518waihui.com"}]},"mark":{"type":"text","align":"center","baseline":"middle","font":"Liberation Sans","fontSize":28,"color":"#404040"},"encoding":{"x":{"field":"n","type":"quantitative"},"y":{"field":"price","type":"quantitative"},"text":{"field":"label"}}}
]}
